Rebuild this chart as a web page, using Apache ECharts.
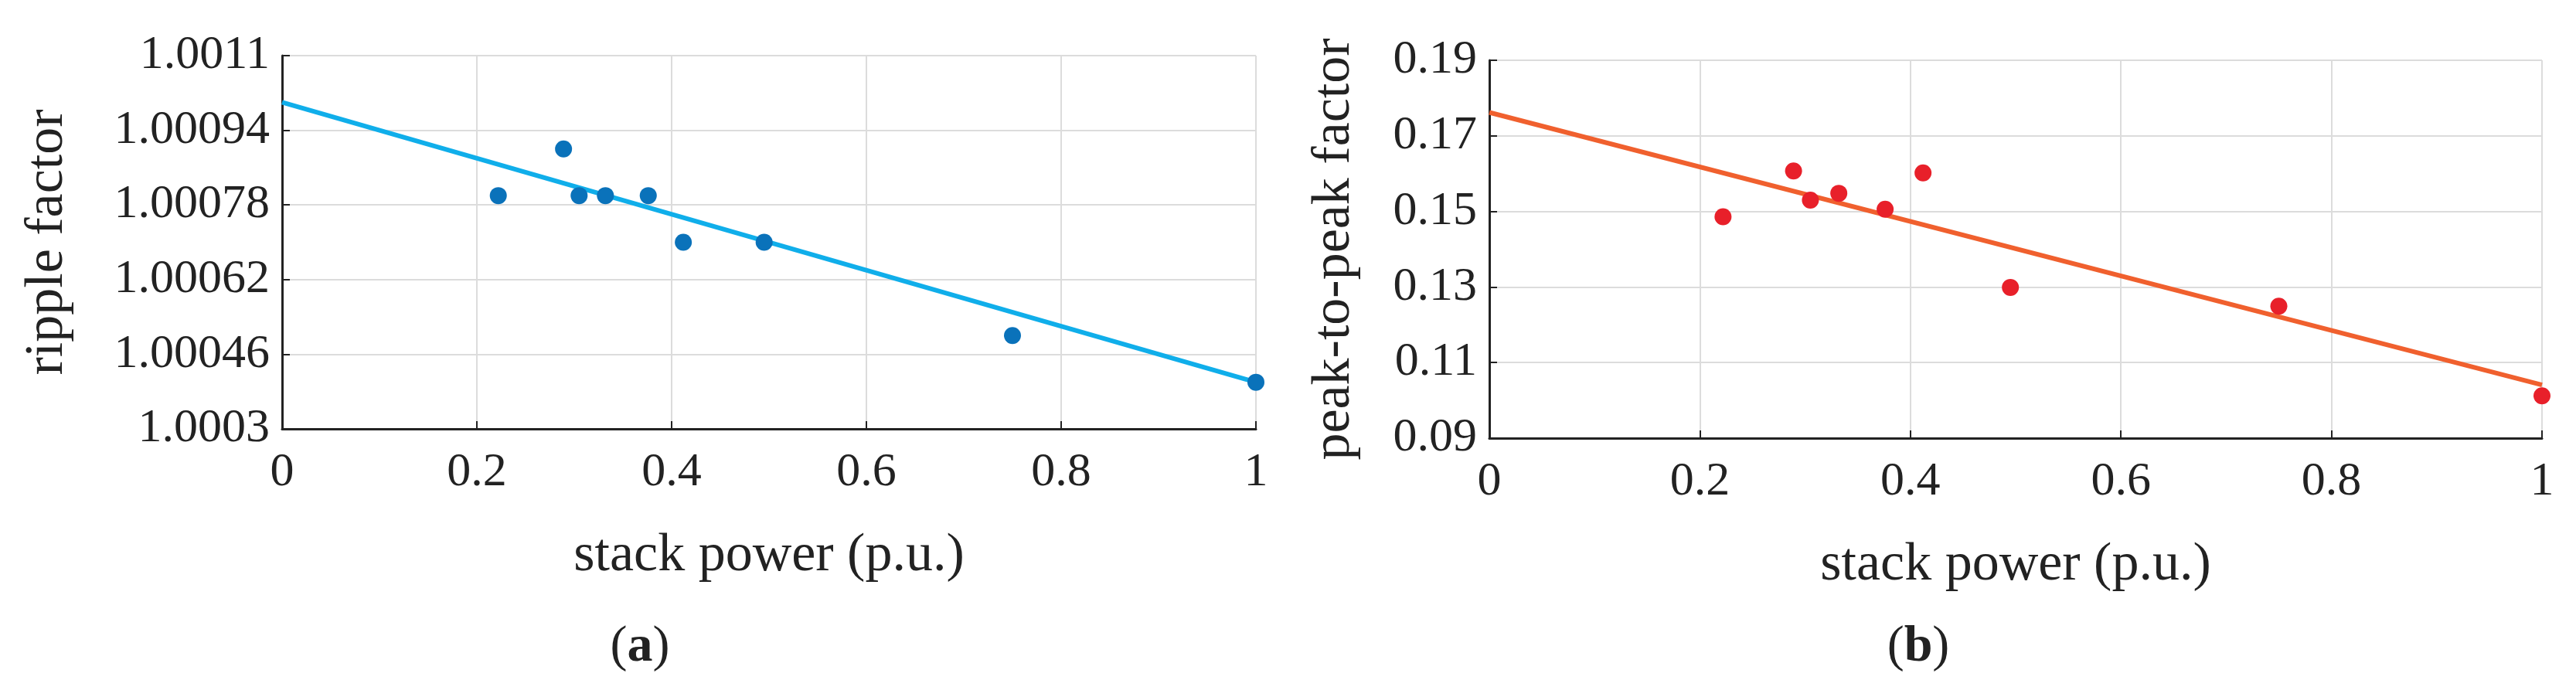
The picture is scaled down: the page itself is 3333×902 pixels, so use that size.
<!DOCTYPE html>
<html><head><meta charset="utf-8">
<script src="https://cdn.jsdelivr.net/npm/echarts@6/dist/echarts.min.js"></script>
<style>html,body{margin:0;padding:0;background:#fff}#c{width:3333px;height:902px}</style>
</head><body><div id="c"></div>
<script>
const powerX = [0.222, 0.289, 0.305, 0.332, 0.376, 0.412, 0.495, 0.75, 1.0];
const rippleY = [1.0008, 1.0009, 1.0008, 1.0008, 1.0008, 1.0007, 1.0007, 1.0005, 1.0004];
const peakY = [0.1486, 0.1607, 0.153, 0.1548, 0.1506, 0.1602, 0.1299, 0.1249, 0.1012];
const rippleFit = [[0, 1.0010], [1, 1.0004]];
const peakFit = [[0, 0.1762], [1, 0.1041]];
const xTicks = [0, 0.2, 0.4, 0.6, 0.8, 1];

const F = 'Liberation Serif';
const chart = echarts.init(document.getElementById('c'));
function xAxis(i){return {gridIndex:i,type:'value',min:0,max:1,interval:0.2,
  name:'stack power (p.u.)',nameLocation:'middle',nameGap:130,
  nameTextStyle:{fontFamily:F,fontSize:70,color:'#222'},
  axisLabel:{fontFamily:F,fontSize:62,color:'#222',margin:26,formatter:v=>String(+v.toFixed(1))},
  axisLine:{show:true,lineStyle:{color:'#222',width:3}},
  axisTick:{show:true,inside:true,length:10,lineStyle:{color:'#222',width:2}},
  splitLine:{show:true,lineStyle:{color:'#dcdcdc',width:2}}};}
function yAxis(i,min,max,int,name,gap,dec){return {gridIndex:i,type:'value',min:min,max:max,interval:int,
  name:name,nameLocation:'middle',nameGap:gap,
  nameTextStyle:{fontFamily:F,fontSize:70,color:'#222'},
  axisLabel:{fontFamily:F,fontSize:62,color:'#222',margin:16,formatter:v=>String(+v.toFixed(dec))},
  axisLine:{show:true,lineStyle:{color:'#222',width:3}},
  axisTick:{show:true,inside:true,length:10,lineStyle:{color:'#222',width:2}},
  splitLine:{show:true,lineStyle:{color:'#dcdcdc',width:2}}};}
const cap = l => ({text:'({b|'+l+'})',textStyle:{fontFamily:F,fontSize:66,fontWeight:'normal',color:'#222',
  rich:{b:{fontFamily:F,fontSize:66,fontWeight:'bold',color:'#222'}}}});
chart.setOption({
  animation:false,
  grid:[{left:365,top:72,width:1260,height:483},{left:1927,top:78,width:1362,height:489}],
  xAxis:[xAxis(0),xAxis(1)],
  yAxis:[yAxis(0,1.0003,1.0011,0.00016,'ripple factor',268,5),
         yAxis(1,0.09,0.19,0.02,'peak-to-peak factor',165,2)],
  title:[Object.assign(cap('a'),{left:823,top:800,textAlign:'center'}),
         Object.assign(cap('b'),{left:2477,top:800,textAlign:'center'})],
  series:[
    {type:'line',xAxisIndex:0,yAxisIndex:0,data:rippleFit,showSymbol:false,lineStyle:{color:'#10AEEA',width:6},z:2},
    {type:'scatter',xAxisIndex:0,yAxisIndex:0,data:powerX.map((x,i)=>[x,rippleY[i]]),symbolSize:22,itemStyle:{color:'#0A72BA',opacity:1},z:3},
    {type:'line',xAxisIndex:1,yAxisIndex:1,data:peakFit,showSymbol:false,lineStyle:{color:'#F0602E',width:6},z:2},
    {type:'scatter',xAxisIndex:1,yAxisIndex:1,data:powerX.map((x,i)=>[x,peakY[i]]),symbolSize:22,itemStyle:{color:'#E8202A',opacity:1},z:3}
  ]
});
</script></body></html>
